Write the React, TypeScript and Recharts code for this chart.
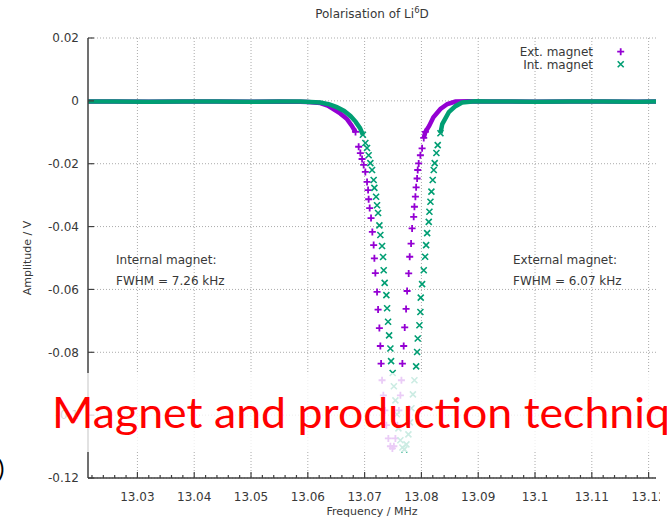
import React from 'react';
import { ComposedChart, Line, Scatter, XAxis, YAxis, CartesianGrid, Legend } from 'recharts';

// Ext. magnet: frequency (MHz) / amplitude (V)
const extFreq = [
  13.0213, 13.026, 13.032, 13.038, 13.044, 13.05, 13.055, 13.0587, 13.06, 13.0622,
  13.0635, 13.0645, 13.0657, 13.0669, 13.0677, 13.0684, 13.06895, 13.06925, 13.06955, 13.06983,
  13.07013, 13.07043, 13.07061, 13.07071, 13.07089, 13.07113, 13.07136, 13.07159, 13.07172, 13.07189,
  13.07219, 13.07237, 13.0726, 13.07277, 13.0729, 13.07307, 13.0733, 13.07357, 13.07383, 13.07418,
  13.07454, 13.07489, 13.07515, 13.07542, 13.07577, 13.07603, 13.0763, 13.07648, 13.07665, 13.07688,
  13.07706, 13.0773, 13.07748, 13.07776, 13.07794, 13.07818, 13.07836, 13.07864, 13.07877, 13.07894,
  13.07907, 13.07924, 13.07935, 13.07952, 13.07982, 13.08012, 13.08041, 13.0807, 13.08136, 13.08211,
  13.08335, 13.08458, 13.08599, 13.08828, 13.0904, 13.095, 13.1, 13.106, 13.112, 13.118, 13.1213,
];
const extAmp = [
  -0.0002, -0.0002, -0.0003, -0.0002, -0.0002, -0.0003, -0.0002, -0.0003, -0.0004, -0.0007,
  -0.0015, -0.0026, -0.004, -0.0058, -0.0078, -0.0099, -0.0146, -0.0166, -0.0185, -0.0204,
  -0.0226, -0.0258, -0.0284, -0.0313, -0.0341, -0.0373, -0.0417, -0.0459, -0.0501, -0.0548,
  -0.0608, -0.0664, -0.0723, -0.078, -0.0836, -0.0889, -0.0937, -0.0985, -0.1032, -0.1074,
  -0.1099, -0.1106, -0.1099, -0.1074, -0.1032, -0.0985, -0.0937, -0.0889, -0.0836, -0.078,
  -0.0721, -0.0662, -0.0605, -0.0549, -0.0496, -0.0454, -0.0406, -0.0369, -0.0337, -0.0305,
  -0.0275, -0.0247, -0.022, -0.0199, -0.0173, -0.0151, -0.0118, -0.0099, -0.008, -0.0052,
  -0.0026, -0.001, -0.0002, -0.0001, -0.0002, -0.0002, -0.0003, -0.0002, -0.0002, -0.0003, -0.0002,
];

// Int. magnet
const intFreq = [
  13.0213, 13.026, 13.032, 13.038, 13.044, 13.05, 13.055, 13.0587, 13.0622, 13.0638,
  13.0651, 13.0664, 13.0675, 13.0684, 13.0692, 13.0697, 13.07013, 13.07043, 13.07071, 13.07101,
  13.07131, 13.07159, 13.07172, 13.07202, 13.07219, 13.07237, 13.0726, 13.07277, 13.07307, 13.07325,
  13.07336, 13.07353, 13.07383, 13.07396, 13.07413, 13.07431, 13.07454, 13.07466, 13.07494, 13.07515,
  13.07542, 13.07568, 13.07595, 13.0763, 13.07665, 13.077, 13.07736, 13.07771, 13.07797, 13.07824,
  13.0785, 13.07877, 13.07907, 13.07924, 13.07935, 13.07965, 13.07982, 13.07988, 13.08012, 13.08041,
  13.08065, 13.08083, 13.08101, 13.08129, 13.08141, 13.08159, 13.08176, 13.08199, 13.08217, 13.08234,
  13.08264, 13.08287, 13.08335, 13.08367, 13.08483, 13.08599, 13.08716, 13.08946, 13.09216, 13.096,
  13.1, 13.106, 13.112, 13.118, 13.1213,
];
const intAmp = [
  -0.0002, -0.0002, -0.0003, -0.0002, -0.0002, -0.0003, -0.0002, -0.0002, -0.0005, -0.0011,
  -0.002, -0.0032, -0.0048, -0.0066, -0.0087, -0.0108, -0.0134, -0.015, -0.0173, -0.0198,
  -0.022, -0.0252, -0.0277, -0.0305, -0.0332, -0.0357, -0.0396, -0.0427, -0.0462, -0.0497,
  -0.0539, -0.0579, -0.0618, -0.066, -0.0703, -0.0746, -0.0788, -0.0828, -0.0866, -0.0908,
  -0.0953, -0.0997, -0.1042, -0.108, -0.1103, -0.1109, -0.1093, -0.1061, -0.1023, -0.0978,
  -0.0934, -0.0889, -0.0845, -0.0799, -0.0756, -0.0714, -0.0672, -0.0626, -0.0583, -0.0539,
  -0.0496, -0.0459, -0.0421, -0.0385, -0.0353, -0.0321, -0.0289, -0.0252, -0.022, -0.0198,
  -0.0166, -0.0141, -0.0103, -0.0074, -0.0036, -0.0017, -0.0005, -0.0001, -0.0002, -0.0002,
  -0.0003, -0.0002, -0.0002, -0.0003, -0.0002,
];

const xMajorTicks = [13.03, 13.04, 13.05, 13.06, 13.07, 13.08, 13.09, 13.1, 13.11, 13.12];
const yTicks = [0.02, 0, -0.02, -0.04, -0.06, -0.08, -0.1, -0.12];
const xDomain = [13.0213, 13.1213];
const yDomain = [-0.12, 0.02];

const PURPLE = '#9400d3';
const GREEN = '#009e73';
const AXIS = '#404040';
const TEXT = '#383838';
const FONT = 'DejaVu Sans';

// minor tics: 5 subdivisions per major interval
const xMinorTicks: number[] = [];
for (let m = 13.02; m < 13.125; m += 0.01) {
  for (let k = 1; k < 5; k++) {
    const v = m + k * 0.002;
    if (v > xDomain[0] && v < xDomain[1]) xMinorTicks.push(v);
  }
}
const xAllTicks = [...xMajorTicks, ...xMinorTicks].sort((a, b) => a - b);
const isMajor = (v: number) => Math.abs(v * 100 - Math.round(v * 100)) < 1e-6;
const fmt = (v: number) => String(Number(v.toFixed(2)));

// where the markers overlap they read as a solid band
const BAND_LIMIT = -0.012;
const MARK_LIMIT = -0.009;
const splitSeries = (freq: number[], amp: number[]) => {
  const pts = freq.map((f, i) => ({ f, a: amp[i] }));
  const first = pts.findIndex((p) => p.a < BAND_LIMIT);
  let last = pts.length - 1;
  while (last > 0 && pts[last].a >= BAND_LIMIT) last--;
  return {
    left: pts.slice(0, first),
    right: pts.slice(last + 1),
    marks: pts.filter((p) => p.a < MARK_LIMIT),
  };
};
const ext = splitSeries(extFreq, extAmp);
const int = splitSeries(intFreq, intAmp);

const Plus = ({ cx, cy, color }: any) => (
  <path d={`M${cx - 3.5},${cy}h7M${cx},${cy - 3.5}v7`} stroke={color} strokeWidth={1.8} fill="none" />
);
const Cross = ({ cx, cy, color }: any) => (
  <path d={`M${cx - 3},${cy - 3}l6,6M${cx - 3},${cy + 3}l6,-6`} stroke={color} strokeWidth={1.6} fill="none" />
);

const BottomTick = ({ x, y, payload }: any) => {
  const major = isMajor(payload.value);
  return (
    <g>
      <line x1={x} y1={y} x2={x} y2={y - (major ? 6 : 3)} stroke={AXIS} strokeWidth={1.2} />
      {major && (
        <text x={x} y={y + 23} textAnchor="middle" fontSize={12} fontFamily={FONT} fill={TEXT}>
          {fmt(payload.value)}
        </text>
      )}
    </g>
  );
};
const TopTick = ({ x, y, payload }: any) => (
  <line x1={x} y1={y} x2={x} y2={y + (isMajor(payload.value) ? 6 : 3)} stroke={AXIS} strokeWidth={1.2} />
);
const LeftTick = ({ x, y, payload }: any) => (
  <g>
    <line x1={x} y1={y} x2={x + 6} y2={y} stroke={AXIS} strokeWidth={1.2} />
    <text x={x - 9} y={y + 4.3} textAnchor="end" fontSize={12} fontFamily={FONT} fill={TEXT}>
      {fmt(payload.value)}
    </text>
  </g>
);
const RightTick = ({ x, y }: any) => (
  <line x1={x} y1={y} x2={x - 6} y2={y} stroke={AXIS} strokeWidth={1.2} />
);

const LegendBox = () => (
  <svg width={180} height={28} style={{ display: 'block' }}>
    <text x={123} y={11.9} textAnchor="end" fontSize={12} fontFamily={FONT} fill={TEXT}>Ext. magnet</text>
    <Plus cx={150.7} cy={7.7} color={PURPLE} />
    <text x={123} y={24.5} textAnchor="end" fontSize={12} fontFamily={FONT} fill={TEXT}>Int. magnet</text>
    <Cross cx={150.7} cy={20.3} color={GREEN} />
  </svg>
);

const txt = { fontFamily: FONT, fill: TEXT } as const;

export default function App() {
  return (
    <div style={{ position: 'fixed', left: 0, top: 0, width: 667, height: 519, overflow: 'hidden', background: '#fff' }}>
      <div style={{ position: 'absolute', left: 0, top: 0, width: 660, height: 519, overflow: 'hidden' }}>
        <ComposedChart width={667} height={519} margin={{ top: 38, right: 11, bottom: 0, left: 8 }} style={{ fontFamily: FONT }}>
          <CartesianGrid
            verticalValues={xMajorTicks}
            horizontalValues={yTicks}
            stroke="#ababab"
            strokeDasharray="1 2"
          />
          <XAxis
            dataKey="f"
            type="number"
            domain={xDomain}
            allowDataOverflow
            ticks={xAllTicks}
            interval={0}
            height={41}
            tickSize={0}
            tickMargin={0}
            tickLine={false}
            tick={<BottomTick />}
            axisLine={{ stroke: AXIS, strokeWidth: 1.5 }}
          />
          <XAxis
            xAxisId="top"
            orientation="top"
            type="number"
            domain={xDomain}
            allowDataOverflow
            ticks={xAllTicks}
            interval={0}
            height={0}
            tickSize={0}
            tickMargin={0}
            tickLine={false}
            tick={<TopTick />}
            axisLine={{ stroke: AXIS, strokeWidth: 1.5 }}
          />
          <YAxis
            dataKey="a"
            type="number"
            domain={yDomain}
            allowDataOverflow
            ticks={yTicks}
            interval={0}
            width={80}
            tickSize={0}
            tickMargin={0}
            tickLine={false}
            tick={<LeftTick />}
            axisLine={{ stroke: AXIS, strokeWidth: 1.5 }}
          />
          <YAxis
            yAxisId="right"
            orientation="right"
            type="number"
            domain={yDomain}
            allowDataOverflow
            ticks={yTicks}
            interval={0}
            width={0}
            tickSize={0}
            tickMargin={0}
            tickLine={false}
            tick={<RightTick />}
            axisLine={{ stroke: AXIS, strokeWidth: 1.5 }}
          />
          <Legend
            layout="vertical"
            align="center"
            verticalAlign="middle"
            wrapperStyle={{ left: 470, top: 44, width: 180, height: 28 }}
            content={() => <LegendBox />}
          />

          <Line data={ext.left} dataKey="a" stroke={PURPLE} strokeWidth={4.5} dot={false} activeDot={false} isAnimationActive={false} />
          <Line data={ext.right} dataKey="a" stroke={PURPLE} strokeWidth={4.5} dot={false} activeDot={false} isAnimationActive={false} />
          <Scatter data={ext.marks} dataKey="a" isAnimationActive={false} shape={(p: any) => <Plus cx={p.cx} cy={p.cy} color={PURPLE} />} />
          <Line data={int.left} dataKey="a" stroke={GREEN} strokeWidth={4.5} dot={false} activeDot={false} isAnimationActive={false} />
          <Line data={int.right} dataKey="a" stroke={GREEN} strokeWidth={4.5} dot={false} activeDot={false} isAnimationActive={false} />
          <Scatter data={int.marks} dataKey="a" isAnimationActive={false} shape={(p: any) => <Cross cx={p.cx} cy={p.cy} color={GREEN} />} />

          <g>
            <text x={372} y={18} textAnchor="middle" fontSize={12} {...txt}>
              Polarisation of Li<tspan dy={-5} fontSize={8.5}>6</tspan><tspan dy={5}>D</tspan>
            </text>
            <text x={27} y={258} transform="rotate(-90 27 258)" textAnchor="middle" dominantBaseline="central" fontSize={11} {...txt}>
              Amplitude / V
            </text>
            <text x={372} y={515} textAnchor="middle" fontSize={11} {...txt}>Frequency / MHz</text>
            <text x={116} y={263.6} fontSize={12} {...txt}>Internal magnet:</text>
            <text x={116} y={285.3} fontSize={12} {...txt}>FWHM = 7.26 kHz</text>
            <text x={513} y={263.6} fontSize={12} {...txt}>External magnet:</text>
            <text x={513} y={285.3} fontSize={12} {...txt}>FWHM = 6.07 kHz</text>
          </g>
        </ComposedChart>
      </div>
      <svg width={667} height={519} style={{ position: 'absolute', left: 0, top: 0, pointerEvents: 'none' }}>
        <rect x={0} y={373} width={667} height={79} fill="#fff" fillOpacity={0.8} />
        <text x={52} y={428} fontSize={42.5} fontFamily="Lato" fill="#ff0000" textLength={618} lengthAdjust="spacingAndGlyphs">
          Magnet and production techniq
        </text>
        <text x={-2} y={477} fontSize={24} fontFamily="Lato" fill="#000">)</text>
      </svg>
    </div>
  );
}
